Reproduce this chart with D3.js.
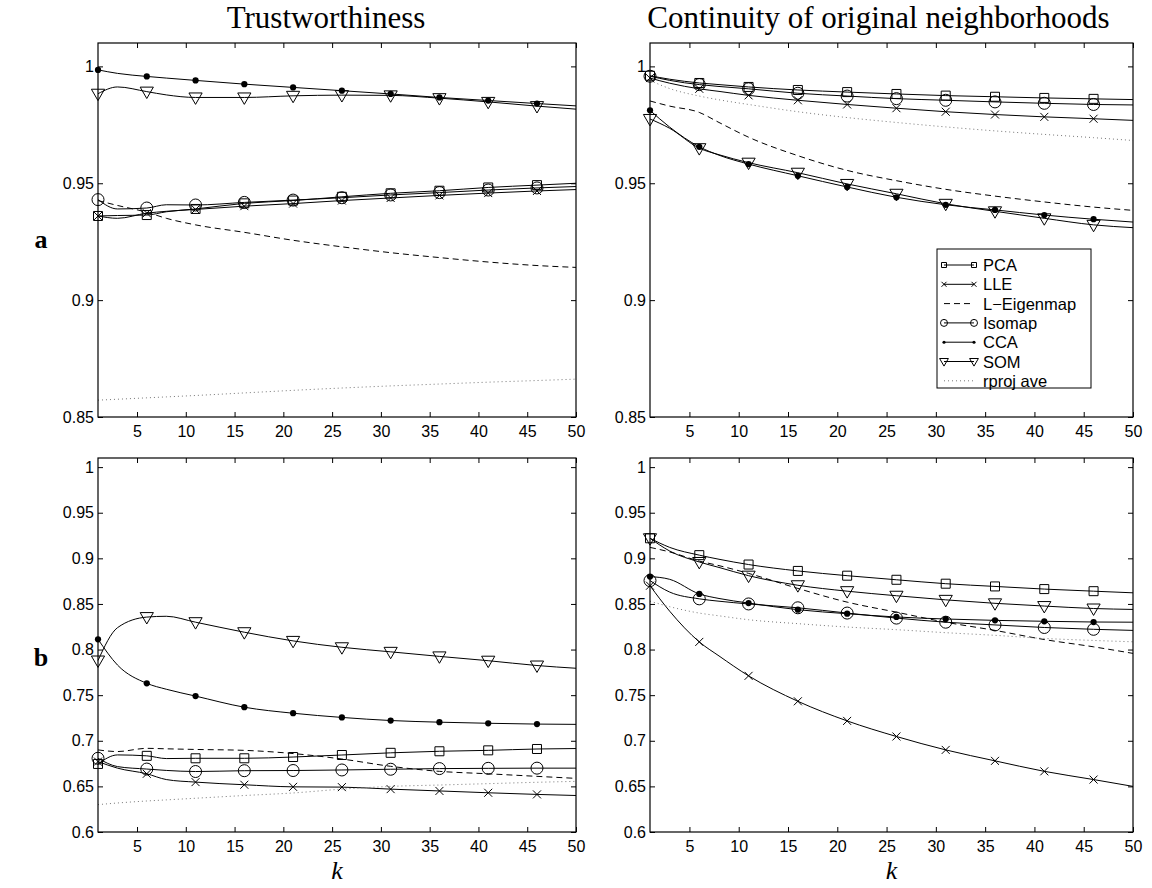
<!DOCTYPE html>
<html>
<head>
<meta charset="utf-8">
<script src="https://cdn.jsdelivr.net/npm/d3@7"></script>
<style>
  html, body { margin: 0; padding: 0; background: #fff; }
  svg { display: block; }
  .tick text { font-family: "Liberation Sans", Arial, sans-serif; font-size: 16px; fill: #000; }
  .tick line { stroke: #000; stroke-width: 1; }
  .domain { display: none; }
  .title { font-family: "Liberation Serif", serif; font-size: 31px; }
  .rowlab { font-family: "Liberation Serif", serif; font-size: 26px; font-weight: bold; }
  .klab { font-family: "Liberation Serif", serif; font-size: 26px; font-style: italic; }
  .leg text { font-family: "Liberation Sans", Arial, sans-serif; font-size: 16.5px; }
</style>
</head>
<body>
<svg id="chart" width="1152" height="888"></svg>
<script>
const K = [1, 3, 6, 8, 11, 16, 21, 26, 31, 36, 41, 46, 50];
const MARK_K = [1, 6, 11, 16, 21, 26, 31, 36, 41, 46];
const X_TICKS = [5, 10, 15, 20, 25, 30, 35, 40, 45, 50];
const Y_TICKS_A = [0.85, 0.9, 0.95, 1];
const Y_TICKS_B = [0.6, 0.65, 0.7, 0.75, 0.8, 0.85, 0.9, 0.95, 1];

const METHODS = ['PCA', 'LLE', 'L\u2212Eigenmap', 'Isomap', 'CCA', 'SOM', 'rproj ave'];

// rows follow METHODS order
const TRUST_A = [
  [0.9360, 0.9362, 0.9364, 0.9378, 0.9390, 0.9414, 0.9426, 0.9442, 0.9457, 0.9468, 0.9482, 0.9492, 0.9500],
  [0.9360, 0.9350, 0.9372, 0.9380, 0.9388, 0.9402, 0.9413, 0.9426, 0.9437, 0.9448, 0.9458, 0.9467, 0.9473],
  [0.9426, 0.9405, 0.9376, 0.9350, 0.9322, 0.9290, 0.9256, 0.9228, 0.9203, 0.9182, 0.9163, 0.9148, 0.9140],
  [0.9430, 0.9390, 0.9394, 0.9408, 0.9407, 0.9418, 0.9428, 0.9438, 0.9450, 0.9460, 0.9471, 0.9480, 0.9486],
  [0.9985, 0.9970, 0.9957, 0.9950, 0.9940, 0.9924, 0.9910, 0.9896, 0.9882, 0.9867, 0.9854, 0.9841, 0.9831],
  [0.9883, 0.9912, 0.9892, 0.9878, 0.9867, 0.9867, 0.9874, 0.9877, 0.9876, 0.9864, 0.9848, 0.9830, 0.9817],
  [0.8572, 0.8576, 0.8582, 0.8586, 0.8592, 0.8603, 0.8614, 0.8624, 0.8633, 0.8641, 0.8649, 0.8656, 0.8662],
];
const CONT_A = [
  [0.9960, 0.9945, 0.9929, 0.9922, 0.9912, 0.9899, 0.9890, 0.9882, 0.9875, 0.9870, 0.9865, 0.9861, 0.9858],
  [0.9950, 0.9928, 0.9904, 0.9893, 0.9876, 0.9855, 0.9837, 0.9821, 0.9806, 0.9794, 0.9784, 0.9776, 0.9769],
  [0.9852, 0.9830, 0.9803, 0.9760, 0.9697, 0.9618, 0.9555, 0.9511, 0.9474, 0.9445, 0.9420, 0.9398, 0.9384],
  [0.9958, 0.9940, 0.9922, 0.9914, 0.9904, 0.9885, 0.9873, 0.9862, 0.9855, 0.9848, 0.9842, 0.9837, 0.9835],
  [0.9812, 0.9740, 0.9656, 0.9620, 0.9582, 0.9532, 0.9484, 0.9440, 0.9408, 0.9386, 0.9364, 0.9346, 0.9334],
  [0.9775, 0.9735, 0.9650, 0.9622, 0.9588, 0.9545, 0.9497, 0.9455, 0.9412, 0.9380, 0.9350, 0.9322, 0.9310],
  [0.9940, 0.9905, 0.9873, 0.9857, 0.9837, 0.9806, 0.9781, 0.9760, 0.9741, 0.9724, 0.9709, 0.9695, 0.9683],
];
const TRUST_B = [
  [0.6746, 0.6845, 0.6835, 0.6805, 0.6808, 0.6808, 0.6822, 0.6844, 0.6868, 0.6885, 0.6895, 0.6910, 0.6915],
  [0.6772, 0.6700, 0.6638, 0.6575, 0.6547, 0.6518, 0.6495, 0.6492, 0.6470, 0.6450, 0.6430, 0.6412, 0.6400],
  [0.6900, 0.6882, 0.6917, 0.6912, 0.6905, 0.6895, 0.6860, 0.6800, 0.6720, 0.6665, 0.6638, 0.6610, 0.6588],
  [0.6808, 0.6717, 0.6690, 0.6675, 0.6663, 0.6672, 0.6674, 0.6680, 0.6688, 0.6695, 0.6698, 0.6700, 0.6700],
  [0.8113, 0.7830, 0.7630, 0.7565, 0.7490, 0.7368, 0.7302, 0.7256, 0.7222, 0.7204, 0.7192, 0.7183, 0.7180],
  [0.7880, 0.8240, 0.8356, 0.8365, 0.8300, 0.8190, 0.8095, 0.8025, 0.7975, 0.7925, 0.7878, 0.7825, 0.7795],
  [0.6300, 0.6318, 0.6340, 0.6352, 0.6370, 0.6400, 0.6428, 0.6470, 0.6500, 0.6515, 0.6530, 0.6545, 0.6555],
];
const CONT_B = [
  [0.9220, 0.9120, 0.9035, 0.8990, 0.8932, 0.8862, 0.8810, 0.8765, 0.8722, 0.8692, 0.8663, 0.8640, 0.8622],
  [0.8700, 0.8420, 0.8084, 0.7930, 0.7712, 0.7433, 0.7218, 0.7047, 0.6900, 0.6780, 0.6665, 0.6575, 0.6500],
  [0.9120, 0.9070, 0.8970, 0.8920, 0.8835, 0.8670, 0.8520, 0.8410, 0.8300, 0.8210, 0.8110, 0.8030, 0.7958],
  [0.8756, 0.8630, 0.8556, 0.8530, 0.8500, 0.8458, 0.8400, 0.8345, 0.8300, 0.8270, 0.8242, 0.8222, 0.8210],
  [0.8800, 0.8770, 0.8610, 0.8560, 0.8510, 0.8437, 0.8393, 0.8357, 0.8335, 0.8320, 0.8310, 0.8302, 0.8300],
  [0.9220, 0.9080, 0.8960, 0.8900, 0.8810, 0.8705, 0.8640, 0.8590, 0.8545, 0.8507, 0.8477, 0.8450, 0.8440],
  [0.8530, 0.8470, 0.8400, 0.8370, 0.8327, 0.8284, 0.8247, 0.8218, 0.8185, 0.8156, 0.8122, 0.8100, 0.8085],
];

const STYLE = {
  'PCA':        { marker: 'square' },
  'LLE':        { marker: 'x' },
  'L\u2212Eigenmap': { marker: null, dash: '6,4' },
  'Isomap':     { marker: 'circle' },
  'CCA':        { marker: 'dot' },
  'SOM':        { marker: 'tri' },
  'rproj ave':  { marker: null, dash: '1,3', color: '#777' },
};

const svg = d3.select('#chart');

function markerPath(type, s) {
  // s = nominal size in px
  const h = s / 2;
  if (type === 'square') return `M${-h},${-h}H${h}V${h}H${-h}Z`;
  if (type === 'x') return `M${-h},${-h}L${h},${h}M${-h},${h}L${h},${-h}`;
  if (type === 'tri') return `M${-h * 1.1},${-h * 0.75}H${h * 1.1}L0,${h * 1.15}Z`;
  return null;
}

function drawMarker(g, type, x, y, s) {
  if (type === 'circle') {
    g.append('circle').attr('cx', x).attr('cy', y).attr('r', s / 2)
      .attr('fill', 'none').attr('stroke', '#000').attr('stroke-width', 1);
  } else if (type === 'dot') {
    g.append('circle').attr('cx', x).attr('cy', y).attr('r', s / 3.2).attr('fill', '#000');
  } else {
    g.append('path').attr('transform', `translate(${x},${y})`).attr('d', markerPath(type, s))
      .attr('fill', 'none').attr('stroke', '#000').attr('stroke-width', 1);
  }
}

const MSIZE = { square: 9, x: 8, circle: 12, dot: 10, tri: 12 };

function panel(box, yDomain, yTicks, rows) {
  const x = d3.scaleLinear().domain([1, 50]).range([box.x0, box.x1]);
  const y = d3.scaleLinear().domain(yDomain).range([box.y1, box.y0]);
  const g = svg.append('g');

  const line = d3.line().x((d, i) => x(K[i])).y(d => y(d)).curve(d3.curveMonotoneX);

  rows.forEach((vals, i) => {
    const name = METHODS[i];
    const st = STYLE[name];
    g.append('path').attr('d', line(vals))
      .attr('fill', 'none').attr('stroke', st.color || '#000').attr('stroke-width', 1)
      .attr('stroke-dasharray', st.dash || null);
    if (st.marker) {
      K.forEach((k, j) => {
        if (MARK_K.includes(k)) drawMarker(g, st.marker, x(k), y(vals[j]), MSIZE[st.marker]);
      });
    }
  });

  g.append('rect').attr('x', box.x0).attr('y', box.y0)
    .attr('width', box.x1 - box.x0).attr('height', box.y1 - box.y0)
    .attr('fill', 'none').attr('stroke', '#000').attr('stroke-width', 1.2);

  const fmt = d => String(+d.toFixed(2));
  g.append('g').attr('transform', `translate(${box.x0},0)`)
    .call(d3.axisLeft(y).tickValues(yTicks).tickFormat(fmt).tickSize(-5).tickSizeOuter(0).tickPadding(4));
  g.append('g').attr('transform', `translate(${box.x1},0)`)
    .call(d3.axisRight(y).tickValues(yTicks).tickFormat('').tickSize(-5).tickSizeOuter(0));
  g.append('g').attr('transform', `translate(0,${box.y1})`)
    .call(d3.axisBottom(x).tickValues(X_TICKS).tickFormat(d3.format('d')).tickSize(-5).tickSizeOuter(0).tickPadding(9));
  g.append('g').attr('transform', `translate(0,${box.y0})`)
    .call(d3.axisTop(x).tickValues(X_TICKS).tickFormat('').tickSize(-5).tickSizeOuter(0));
  return { x, y, g };
}

const TL = { x0: 98, x1: 576, y0: 43, y1: 417 };
const TR = { x0: 650, x1: 1133, y0: 43, y1: 417 };
const BL = { x0: 98, x1: 576, y0: 458, y1: 832 };
const BR = { x0: 650, x1: 1133, y0: 458, y1: 832 };

panel(TL, [0.85, 1.01], Y_TICKS_A, TRUST_A);
panel(TR, [0.85, 1.01], Y_TICKS_A, CONT_A);
panel(BL, [0.6, 1.01], Y_TICKS_B, TRUST_B);
panel(BR, [0.6, 1.01], Y_TICKS_B, CONT_B);

// titles and labels
svg.append('text').attr('class', 'title').attr('x', (TL.x0 + TL.x1) / 2 - 11).attr('y', 28)
  .attr('text-anchor', 'middle').text('Trustworthiness');
svg.append('text').attr('class', 'title').attr('x', (TR.x0 + TR.x1) / 2 - 13).attr('y', 28)
  .attr('text-anchor', 'middle').text('Continuity of original neighborhoods');
svg.append('text').attr('class', 'rowlab').attr('x', 41).attr('y', 248).attr('text-anchor', 'middle').text('a');
svg.append('text').attr('class', 'rowlab').attr('x', 41).attr('y', 666).attr('text-anchor', 'middle').text('b');
[BL, BR].forEach(b => {
  svg.append('text').attr('class', 'klab').attr('x', (b.x0 + b.x1) / 2).attr('y', 879)
    .attr('text-anchor', 'middle').text('k');
});

// legend
const leg = svg.append('g').attr('class', 'leg');
const lx0 = 937, ly0 = 249, lw = 154, lh = 139;
leg.append('rect').attr('x', lx0).attr('y', ly0).attr('width', lw).attr('height', lh)
  .attr('fill', '#fff').attr('stroke', '#000').attr('stroke-width', 1);
METHODS.forEach((name, i) => {
  const st = STYLE[name];
  const yy = ly0 + 16 + i * 19.3;
  const a = lx0 + 7, b = lx0 + 37;
  leg.append('line').attr('x1', a).attr('x2', b).attr('y1', yy).attr('y2', yy)
    .attr('stroke', st.color || '#000').attr('stroke-width', 1).attr('stroke-dasharray', st.dash || null);
  if (st.marker) {
    const s = st.marker === 'circle' ? 7 : (st.marker === 'tri' ? 8 : 5);
    drawMarker(leg, st.marker, a, yy, s);
    drawMarker(leg, st.marker, b, yy, s);
  }
  leg.append('text').attr('x', lx0 + 46).attr('y', yy + 6).text(name);
});
</script>
</body>
</html>
